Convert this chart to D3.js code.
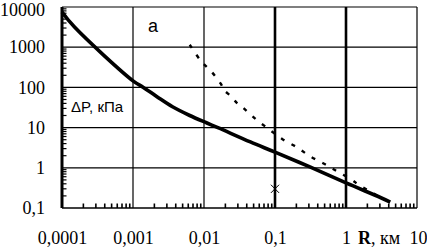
<!DOCTYPE html>
<html><head><meta charset="utf-8">
<script src="https://cdn.jsdelivr.net/npm/d3@7"></script>
<style>
body{margin:0;background:#fff;}
svg{display:block;}
</style></head>
<body>
<svg id="c" width="427" height="247"></svg>
<script>
// ---- data ----
const xMajor = [0.0001, 0.001, 0.01, 0.1, 1, 10];
const xLabels = ["0,0001", "0,001", "0,01", "0,1", "1", "10"];
const yMajor = [0.1, 1, 10, 100, 1000, 10000];
const yLabels = ["0,1", "1", "10", "100", "1000", "10000"];

const mainR = [0.0001, 0.00015, 0.001, 0.0014, 0.0022, 0.0036, 0.0063, 0.011, 0.016, 0.045, 0.1, 0.31, 1.0, 3.1, 4.2];
const mainP = [7500, 3160, 145, 100, 58, 33, 20, 13, 9.8, 4.4, 2.45, 1.05, 0.42, 0.18, 0.14];

const dashR = [0.0063, 0.0091, 0.0129, 0.0174, 0.019, 0.0247, 0.029, 0.035, 0.052, 0.085, 0.126, 0.20, 0.31, 0.50, 0.77, 1.22, 1.43, 2.0, 3.5];
const dashP = [1150, 450, 240, 120, 87, 58, 41, 32, 17, 8.7, 5.2, 3.3, 1.95, 1.24, 0.79, 0.50, 0.40, 0.28, 0.16];

const markR = [0.1];
const markP = [0.3];

const title = "а";
const yTitle = "ΔP, кПа";
const xTitle = "R, км";

// ---- chart ----
const svg = d3.select("#c");
const x = d3.scaleLog().domain([0.0001, 10]).range([62, 417]);
const y = d3.scaleLog().domain([0.1, 10000]).range([208, 7]);
const font = "'Liberation Serif', 'Times New Roman', serif";

// grid
svg.append("g").selectAll("line").data(yMajor.slice(1)).join("line")
  .attr("x1", x.range()[0]).attr("x2", x.range()[1])
  .attr("y1", d => y(d)).attr("y2", d => y(d))
  .attr("stroke", "#000").attr("stroke-width", 1.2);
svg.append("g").selectAll("line").data(xMajor.slice(1)).join("line")
  .attr("x1", d => x(d)).attr("x2", d => x(d))
  .attr("y1", y.range()[0]).attr("y2", y.range()[1])
  .attr("stroke", "#000").attr("stroke-width", d => (d === 0.1 || d === 1) ? 2.6 : 1.2);

// minor ticks
const xMinor = x.ticks().filter(d => !xMajor.some(m => Math.abs(m - d) / m < 1e-9));
const yMinor = y.ticks().filter(d => !yMajor.some(m => Math.abs(m - d) / m < 1e-9));
svg.append("g").selectAll("line").data(xMinor).join("line")
  .attr("x1", d => x(d)).attr("x2", d => x(d))
  .attr("y1", 208).attr("y2", 203.5)
  .attr("stroke", "#000").attr("stroke-width", 1.6);
svg.append("g").selectAll("line").data(yMinor).join("line")
  .attr("x1", 62).attr("x2", 66.5)
  .attr("y1", d => y(d)).attr("y2", d => y(d))
  .attr("stroke", "#000").attr("stroke-width", 1.2);

// frame
svg.append("line").attr("x1", 62).attr("x2", 417).attr("y1", 208).attr("y2", 208).attr("stroke", "#000").attr("stroke-width", 1.6);
svg.append("line").attr("x1", 62).attr("x2", 62).attr("y1", 7).attr("y2", 208).attr("stroke", "#000").attr("stroke-width", 3);

// axes labels
const ax = svg.append("g").attr("transform", "translate(0,208)")
  .call(d3.axisBottom(x).tickValues(xMajor).tickFormat((d, i) => xLabels[i]).tickSize(0).tickPadding(23));
ax.select(".domain").remove();
ax.selectAll("text").attr("font-family", font).attr("font-size", 18).attr("fill", "#000");
ax.selectAll(".tick").filter(d => d === 10).select("text").attr("dx", 1);

const ay = svg.append("g").attr("transform", "translate(62,0)")
  .call(d3.axisLeft(y).tickValues(yMajor).tickFormat((d, i) => yLabels[i]).tickSize(0).tickPadding(17));
ay.select(".domain").remove();
ay.selectAll("text").attr("font-family", font).attr("font-size", 18).attr("fill", "#000");
ay.selectAll(".tick").filter(d => d === 10000).select("text").attr("dy", "0.45em");

// lines
const line = d3.line().x(d => x(d[0])).y(d => y(d[1])).curve(d3.curveCatmullRom.alpha(0.5));
svg.append("path").datum(mainR.map((r, i) => [r, mainP[i]]))
  .attr("d", line).attr("fill", "none").attr("stroke", "#000").attr("stroke-width", 3.6);
svg.append("path").datum(dashR.map((r, i) => [r, dashP[i]]))
  .attr("d", line).attr("fill", "none").attr("stroke", "#000").attr("stroke-width", 2.4)
  .attr("stroke-dasharray", "4,8");

// marker
svg.append("g").selectAll("path").data(markR).join("path")
  .attr("transform", (d, i) => `translate(${x(d)},${y(markP[i])})`)
  .attr("d", d3.symbol(d3.symbolX, 45))
  .attr("fill", "none").attr("stroke", "#000").attr("stroke-width", 1);

// texts
svg.append("text").attr("x", 153).attr("y", 32).attr("text-anchor", "middle")
  .attr("font-family", "'Liberation Sans', Arial, sans-serif").attr("font-size", 18).text(title);
svg.append("text").attr("x", 71).attr("y", 112)
  .attr("font-family", "'Liberation Sans', Arial, sans-serif").attr("font-size", 15).text(yTitle);
svg.append("text").attr("x", 358).attr("y", 244)
  .attr("font-family", font).attr("font-size", 18).attr("fill", "#000")
  .html('<tspan font-weight="bold">R</tspan>, км');
</script>
</body></html>
